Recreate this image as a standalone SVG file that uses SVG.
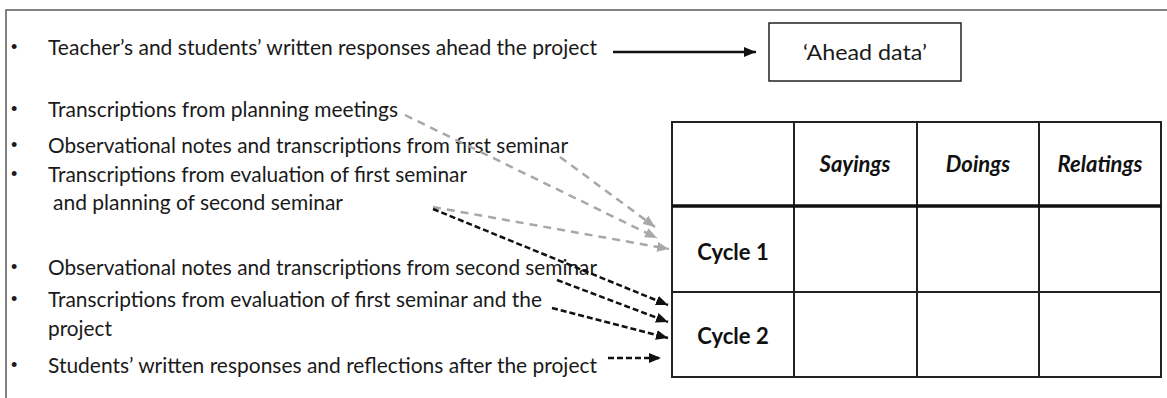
<svg xmlns="http://www.w3.org/2000/svg" width="1167" height="398" viewBox="0 0 1167 398">
  <style>
    .txt { font-family: Lato, "Open Sans", "Liberation Sans", sans-serif; font-size: 21.5px; fill: #1a1a1a; }
    .bul { font-family: "Liberation Sans", sans-serif; font-size: 18px; fill: #1a1a1a; }
    .hdr { font-family: Lato, "Liberation Sans", sans-serif; font-size: 22px; font-weight: bold; font-style: italic; fill: #111; text-anchor: middle; }
    .row { font-family: Lato, "Liberation Sans", sans-serif; font-size: 22px; font-weight: bold; fill: #111; text-anchor: middle; }
    .grid { stroke: #222; stroke-width: 2; fill: none; }
    .solid { stroke: #111; stroke-width: 2.5; fill: none; }
    .grey { stroke: #a8a8a8; stroke-width: 2.5; fill: none; stroke-dasharray: 8 6; }
    .dark { stroke: #111; stroke-width: 2.5; fill: none; stroke-dasharray: 6 3; }
  </style>
  <defs>
    <marker id="headBlack" markerUnits="userSpaceOnUse" markerWidth="12" markerHeight="10" refX="12" refY="5" orient="auto">
      <path d="M0,0 L12,5 L0,10 z" fill="#111"/>
    </marker>
    <marker id="headGrey" markerUnits="userSpaceOnUse" markerWidth="12" markerHeight="10" refX="12" refY="5" orient="auto">
      <path d="M0,0 L12,5 L0,10 z" fill="#a8a8a8"/>
    </marker>
  </defs>

  <rect width="1167" height="398" fill="#fff"/>

  <!-- outer frame (open to right and bottom) -->
  <path d="M6,398 V10 H1167" stroke="#5a5a5a" stroke-width="1.5" fill="none"/>

  <!-- data sources list -->
  <g id="sources">
    <text class="bul" x="11" y="53">•</text>
    <text class="txt" x="48" y="55" textLength="549" lengthAdjust="spacingAndGlyphs">Teacher’s and students’ written responses ahead the project</text>

    <text class="bul" x="11" y="115">•</text>
    <text class="txt" x="48" y="117" textLength="350" lengthAdjust="spacingAndGlyphs">Transcriptions from planning meetings</text>
    <text class="bul" x="11" y="151">•</text>
    <text class="txt" x="48" y="153" textLength="520" lengthAdjust="spacingAndGlyphs">Observational notes and transcriptions from first seminar</text>
    <text class="bul" x="11" y="180">•</text>
    <text class="txt" x="48" y="182" textLength="419" lengthAdjust="spacingAndGlyphs">Transcriptions from evaluation of first seminar</text>
    <text class="txt" x="53" y="210" textLength="290" lengthAdjust="spacingAndGlyphs">and planning of second seminar</text>

    <text class="bul" x="11" y="273">•</text>
    <text class="txt" x="48" y="275" textLength="549" lengthAdjust="spacingAndGlyphs">Observational notes and transcriptions from second seminar</text>
    <text class="bul" x="11" y="305">•</text>
    <text class="txt" x="48" y="307" textLength="494" lengthAdjust="spacingAndGlyphs">Transcriptions from evaluation of first seminar and the</text>
    <text class="txt" x="48" y="336" textLength="64" lengthAdjust="spacingAndGlyphs">project</text>
    <text class="bul" x="11" y="371">•</text>
    <text class="txt" x="48" y="373" textLength="549" lengthAdjust="spacingAndGlyphs">Students’ written responses and reflections after the project</text>
  </g>

  <!-- ahead data box -->
  <g id="ahead-data">
    <rect x="769" y="23" width="192" height="58" fill="#fff" stroke="#222" stroke-width="1.5"/>
    <text class="txt" x="865" y="60" text-anchor="middle" font-size="24" textLength="124" lengthAdjust="spacingAndGlyphs">‘Ahead data’</text>
  </g>

  <!-- analysis table -->
  <g id="table">
    <rect class="grid" x="672" y="122" width="489" height="255"/>
    <line class="grid" x1="794" y1="122" x2="794" y2="377"/>
    <line class="grid" x1="917" y1="122" x2="917" y2="377"/>
    <line class="grid" x1="1039" y1="122" x2="1039" y2="377"/>
    <line x1="672" y1="206" x2="1161" y2="206" stroke="#111" stroke-width="3.5"/>
    <line class="grid" x1="672" y1="292" x2="1161" y2="292"/>
    <text class="hdr" x="855" y="172">Sayings</text>
    <text class="hdr" x="978" y="172">Doings</text>
    <text class="hdr" x="1100" y="172">Relatings</text>
    <text class="row" x="733" y="260">Cycle 1</text>
    <text class="row" x="733" y="344">Cycle 2</text>
  </g>

  <!-- connectors -->
  <g id="connectors">
    <line class="solid" x1="613" y1="52" x2="756" y2="52" marker-end="url(#headBlack)"/>

    <line class="grey" x1="405" y1="115" x2="657" y2="238" marker-end="url(#headGrey)"/>
    <line class="grey" x1="560" y1="157" x2="655" y2="227" marker-end="url(#headGrey)"/>
    <line class="grey" x1="433" y1="207" x2="669" y2="249" marker-end="url(#headGrey)"/>

    <line class="dark" x1="433" y1="209" x2="668" y2="305" marker-end="url(#headBlack)"/>
    <line class="dark" x1="557" y1="280" x2="668" y2="322" marker-end="url(#headBlack)"/>
    <line class="dark" x1="552" y1="308" x2="668" y2="338" marker-end="url(#headBlack)"/>
    <line class="dark" x1="608" y1="358" x2="661" y2="358" marker-end="url(#headBlack)"/>
  </g>
</svg>
